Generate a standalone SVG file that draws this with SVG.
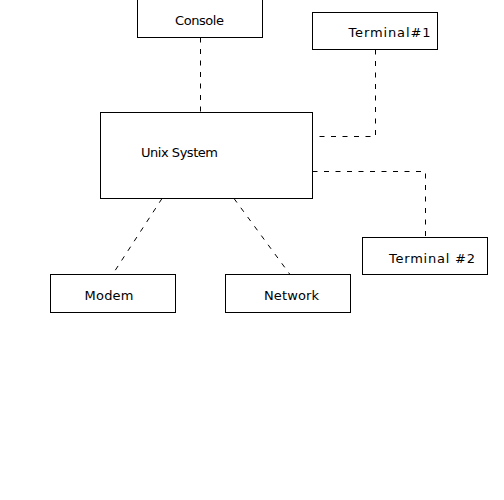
<svg xmlns="http://www.w3.org/2000/svg" width="504" height="500" viewBox="0 0 504 500">
<style>
.box{fill:#fff;stroke:#000;stroke-width:1}
.lbl{font-family:"DejaVu Sans",sans-serif;font-size:13px;fill:#000}
.conn{fill:none;stroke:#000;stroke-width:1;stroke-dasharray:5,6.5}
</style>
<rect width="504" height="500" fill="#fff"/>
<g id="connectors">
<path class="conn" d="M200.5 37.5 V112.5"/>
<path class="conn" d="M375.5 49.5 V136.5 H312.5"/>
<path class="conn" d="M312.5 171.5 H425.5 V237.5"/>
<path class="conn" d="M162 198.5 L112.5 274.5"/>
<path class="conn" d="M234 198.5 L290 274.5"/>
</g>
<g id="console"><rect class="box" x="137.5" y="-5" width="125" height="42.5"/><text class="lbl" x="175" y="25" textLength="49" lengthAdjust="spacing">Console</text></g>
<g id="terminal1"><rect class="box" x="312.5" y="12.5" width="125" height="37"/><text class="lbl" x="348.5" y="37" textLength="82" lengthAdjust="spacing">Terminal#1</text></g>
<g id="unix"><rect class="box" x="100.5" y="112.5" width="212" height="86"/><text class="lbl" x="141" y="157" font-size="12.5" textLength="77" lengthAdjust="spacing">Unix System</text></g>
<g id="terminal2"><rect class="box" x="362.5" y="237.5" width="125" height="37"/><text class="lbl" x="389" y="262.5" textLength="86" lengthAdjust="spacing">Terminal #2</text></g>
<g id="modem"><rect class="box" x="50.5" y="274.5" width="125" height="38"/><text class="lbl" x="84.5" y="300" textLength="49" lengthAdjust="spacing">Modem</text></g>
<g id="network"><rect class="box" x="225.5" y="274.5" width="125" height="38"/><text class="lbl" x="264" y="300" textLength="55" lengthAdjust="spacing">Network</text></g>
</svg>
